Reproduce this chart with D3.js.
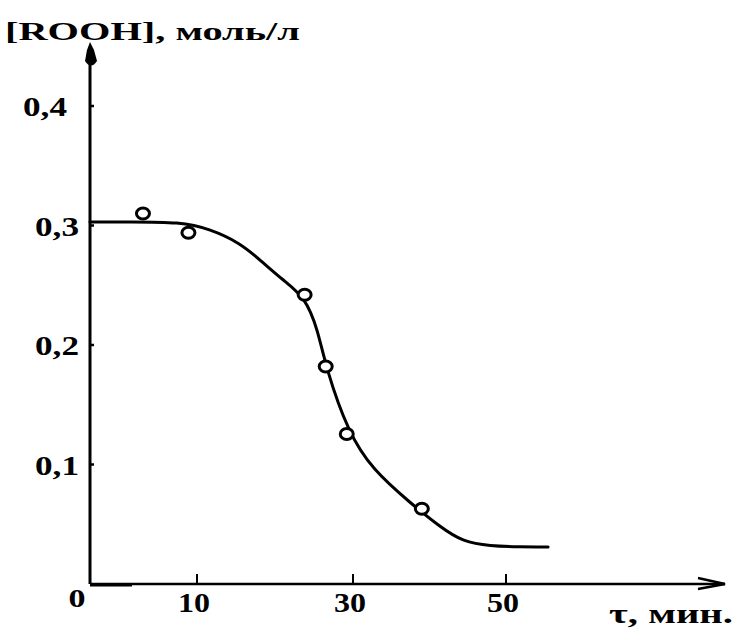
<!DOCTYPE html>
<html lang="ru">
  <head>
    <meta charset="UTF-8" />
    <title>[ROOH] vs time</title>
    <script src="https://d3js.org/d3.v7.min.js"></script>
    <style>
      body {
        margin: 0;
        background: #fff;
      }
      text {
        font-family: "Liberation Serif", "Times New Roman", serif;
        font-weight: bold;
        fill: #000;
      }
      .axis {
        stroke: #000;
        fill: none;
      }
    </style>
  </head>
  <body>
    <svg id="chart" width="736" height="628"></svg>
    <script>
      // ticks
      const yTicks = [0.1, 0.2, 0.3, 0.4];
      const yTickLabels = ["0,1", "0,2", "0,3", "0,4"];
      const xTicks = [10, 30, 50];

      // fitted curve
      const curveT = [0, 3.7, 8.4, 11.7, 15.5, 18.1, 21.0, 23.85, 25.5, 26.5, 29.4, 32.6, 37.5, 41.4, 44.4, 47.9, 51.8, 55.5];
      const curveC = [0.303, 0.303, 0.303, 0.297, 0.2854, 0.2711, 0.2544, 0.2402, 0.2126, 0.1816, 0.1264, 0.0954, 0.0678, 0.0477, 0.0351, 0.0318, 0.031, 0.031];

      // measured points
      const pointT = [4.95, 9.2, 23.8, 26.5, 29.2, 39.0];
      const pointC = [0.31, 0.294, 0.242, 0.182, 0.1255, 0.063];

      const svg = d3.select("#chart");
      const ML = 90, AXIS_Y = 584, AXIS_END = 725, Y_TOP = 42;

      // hand drawn axis: the first 10 min are wider than the rest
      const x = d3.scaleLinear().domain([0, 10, 30, 50, 80]).range([ML, 197, 353, 506, 735.5]);
      const y = d3.scaleLinear().domain([0, 0.4]).range([AXIS_Y, 106]);

      // axes
      svg.append("line").attr("class", "axis")
        .attr("x1", ML).attr("x2", ML).attr("y1", AXIS_Y).attr("y2", Y_TOP + 10)
        .attr("stroke-width", 3);
      svg.append("path")
        .attr("d", `M${ML},${Y_TOP} L${ML + 4},${Y_TOP + 8} L${ML + 7},${Y_TOP + 19} Q${ML + 1},${Y_TOP + 28} ${ML - 5},${Y_TOP + 19} L${ML - 3},${Y_TOP + 8} Z`)
        .attr("fill", "#000");

      svg.append("line").attr("class", "axis")
        .attr("x1", ML).attr("x2", AXIS_END).attr("y1", AXIS_Y).attr("y2", AXIS_Y)
        .attr("stroke-width", 2.5);
      svg.append("line").attr("class", "axis")
        .attr("x1", ML).attr("x2", ML + 42).attr("y1", AXIS_Y + 1).attr("y2", AXIS_Y + 1)
        .attr("stroke-width", 3);
      svg.append("path").attr("class", "axis")
        .attr("d", `M${AXIS_END - 27},${AXIS_Y - 6} L${AXIS_END},${AXIS_Y} L${AXIS_END - 27},${AXIS_Y + 5}`)
        .attr("stroke-width", 2.5);

      // x ticks
      svg.selectAll(".xtick").data(xTicks).enter().append("line")
        .attr("class", "axis")
        .attr("x1", (d) => x(d)).attr("x2", (d) => x(d))
        .attr("y1", AXIS_Y).attr("y2", AXIS_Y - 10)
        .attr("stroke-width", 2);
      svg.selectAll(".xlab").data(xTicks).enter().append("text")
        .attr("x", (d) => x(d) - 3)
        .attr("y", AXIS_Y + 28)
        .attr("text-anchor", "middle")
        .attr("font-size", 27)
        .attr("textLength", 32)
        .attr("lengthAdjust", "spacingAndGlyphs")
        .text((d) => d);
      svg.append("text")
        .attr("x", ML - 13).attr("y", AXIS_Y + 23)
        .attr("text-anchor", "middle")
        .attr("font-size", 26)
        .attr("textLength", 17)
        .attr("lengthAdjust", "spacingAndGlyphs")
        .text("0");

      // y ticks
      svg.selectAll(".ytick").data(yTicks).enter().append("line")
        .attr("class", "axis")
        .attr("x1", ML).attr("x2", ML + 4)
        .attr("y1", (d) => y(d)).attr("y2", (d) => y(d))
        .attr("stroke-width", 2.5);
      svg.selectAll(".ylab").data(yTicks).enter().append("text")
        .attr("x", (d) => (d === 0.4 ? ML - 23 : ML - 11))
        .attr("y", (d) => y(d) + 10)
        .attr("text-anchor", "end")
        .attr("font-size", 28)
        .attr("textLength", 44)
        .attr("lengthAdjust", "spacingAndGlyphs")
        .text((d, i) => yTickLabels[i]);

      // axis titles
      svg.append("text")
        .attr("x", 5).attr("y", 40)
        .attr("font-size", 26)
        .attr("textLength", 295)
        .attr("lengthAdjust", "spacingAndGlyphs")
        .text("[ROOH], моль/л");
      svg.append("text")
        .attr("x", 609).attr("y", 623)
        .attr("font-size", 28)
        .attr("textLength", 124)
        .attr("lengthAdjust", "spacingAndGlyphs")
        .text("τ, мин.");

      // curve
      const line = d3.line()
        .x((d, i) => x(curveT[i]))
        .y((d) => y(d))
        .curve(d3.curveBasis);
      svg.append("path")
        .datum(curveC)
        .attr("d", line)
        .attr("fill", "none")
        .attr("stroke", "#000")
        .attr("stroke-width", 3)
        .attr("stroke-linecap", "round");

      // points
      svg.selectAll(".pt").data(pointC).enter().append("ellipse")
        .attr("cx", (d, i) => x(pointT[i]))
        .attr("cy", (d) => y(d))
        .attr("rx", 6.5)
        .attr("ry", 5.5)
        .attr("fill", "#fff")
        .attr("stroke", "#000")
        .attr("stroke-width", 3);
    </script>
  </body>
</html>
